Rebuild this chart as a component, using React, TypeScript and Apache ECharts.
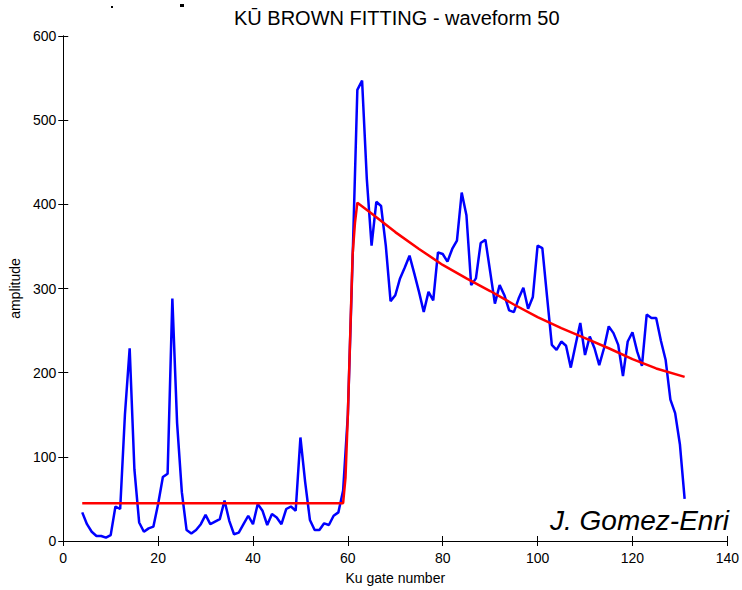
import React, { useEffect, useRef } from "react";
import * as echarts from "echarts";

const titleText = "KŪ BROWN FITTING - waveform 50";
const xAxisName = "Ku gate number";
const yAxisName = "amplitude";
const authorText = "J. Gomez-Enri";

const xTicks = [0, 140, 20];
const yTicks = [0, 600, 100];

const firstGate = 4;
const waveform = [
  34, 20, 11, 6, 6, 4, 7, 41, 38, 150, 229, 85, 22, 11, 15, 17, 44, 76, 80, 288,
  140, 58, 13, 9, 13, 20, 31, 20, 23, 26, 48, 24, 8, 10, 20, 30, 20, 44, 36, 19,
  32, 28, 20, 38, 41, 36, 123, 70, 25, 13, 13, 21, 19, 30, 34, 60, 150, 335, 536, 547,
  430, 351, 403, 398, 351, 285, 292, 312, 325, 339, 318, 296, 272, 296, 286, 343, 341, 332, 347, 357,
  414, 387, 304, 312, 354, 358, 320, 282, 304, 292, 274, 272, 288, 301, 276, 290, 351, 348, 290, 233,
  227, 237, 232, 206, 233, 259, 221, 243, 229, 209, 229, 255, 247, 233, 196, 237, 248, 225, 208, 269,
  265, 265, 238, 215, 168, 152, 115, 50,
];

const fitGates = [4, 59, 59.5, 60, 60.5, 61, 61.5, 62, 65, 70, 75, 80, 85, 90, 95, 100, 105, 110, 115, 120, 125, 131];
const fitValues = [45, 45, 75, 150, 245, 340, 378, 402, 389, 367, 347, 328, 312, 297, 281, 266, 253, 241, 229, 216, 205, 195];

const FONT = "'Liberation Sans', Arial, Helvetica, sans-serif";

export default function App() {
  const ref = useRef<HTMLDivElement>(null);

  useEffect(() => {
    if (!ref.current) return;
    const chart = echarts.init(ref.current, null, { renderer: "svg" });

    const waveData = waveform.map((v, i) => [firstGate + i, v]);
    const fitData = fitGates.map((g, i) => [g, fitValues[i]]);

    const axisLine = { show: true, lineStyle: { color: "#000", width: 1 } };
    const axisTick = { show: true, inside: true, length: 5, lineStyle: { color: "#000", width: 1 } };
    const label = { color: "#000", fontSize: 14, fontFamily: FONT };

    chart.setOption({
      animation: false,
      backgroundColor: "#fff",
      title: {
        text: titleText,
        left: 229,
        top: 3,
        textStyle: { fontSize: 20, fontWeight: "normal", color: "#000", fontFamily: FONT },
      },
      grid: { left: 62.5, right: 14, top: 36, bottom: 46, containLabel: false },
      xAxis: [
        {
          type: "value",
          position: "bottom",
          min: xTicks[0],
          max: xTicks[1],
          interval: xTicks[2],
          axisLine,
          axisTick,
          axisLabel: { ...label, margin: 10 },
          splitLine: { show: false },
          name: xAxisName,
          nameLocation: "middle",
          nameGap: 30,
          nameTextStyle: { ...label },
        },
        {
          type: "value",
          position: "top",
          min: xTicks[0],
          max: xTicks[1],
          interval: xTicks[2],
          axisLine,
          axisTick,
          axisLabel: { show: false },
          splitLine: { show: false },
        },
      ],
      yAxis: [
        {
          type: "value",
          position: "left",
          min: yTicks[0],
          max: yTicks[1],
          interval: yTicks[2],
          axisLine,
          axisTick,
          axisLabel: { ...label, margin: 7 },
          splitLine: { show: false },
          name: yAxisName,
          nameLocation: "middle",
          nameGap: 39,
          nameRotate: 90,
          nameTextStyle: { ...label },
        },
        {
          type: "value",
          position: "right",
          min: yTicks[0],
          max: yTicks[1],
          interval: yTicks[2],
          axisLine,
          axisTick,
          axisLabel: { show: false },
          splitLine: { show: false },
        },
      ],
      series: [
        {
          type: "line",
          data: waveData,
          showSymbol: false,
          symbol: "none",
          lineStyle: { color: "#0000ff", width: 2.5 },
          itemStyle: { color: "#0000ff" },
          z: 2,
        },
        {
          type: "line",
          data: fitData,
          showSymbol: false,
          symbol: "none",
          lineStyle: { color: "#ff0000", width: 2.5 },
          itemStyle: { color: "#ff0000" },
          z: 3,
        },
      ],
      graphic: [
        {
          type: "text",
          left: 550,
          top: 506,
          z: 10,
          style: {
            text: authorText,
            fontSize: 28,
            fontStyle: "italic",
            fontFamily: FONT,
            fill: "#000",
          },
        },
        { type: "rect", shape: { x: 111, y: 6, width: 2, height: 2 }, style: { fill: "#000" } },
        { type: "rect", shape: { x: 180, y: 4, width: 4, height: 3 }, style: { fill: "#000" } },
      ],
    });

    return () => chart.dispose();
  }, []);

  return (
    <div
      ref={ref}
      style={{ position: "fixed", left: 0, top: 0, width: 742, height: 590, background: "#fff" }}
    />
  );
}
